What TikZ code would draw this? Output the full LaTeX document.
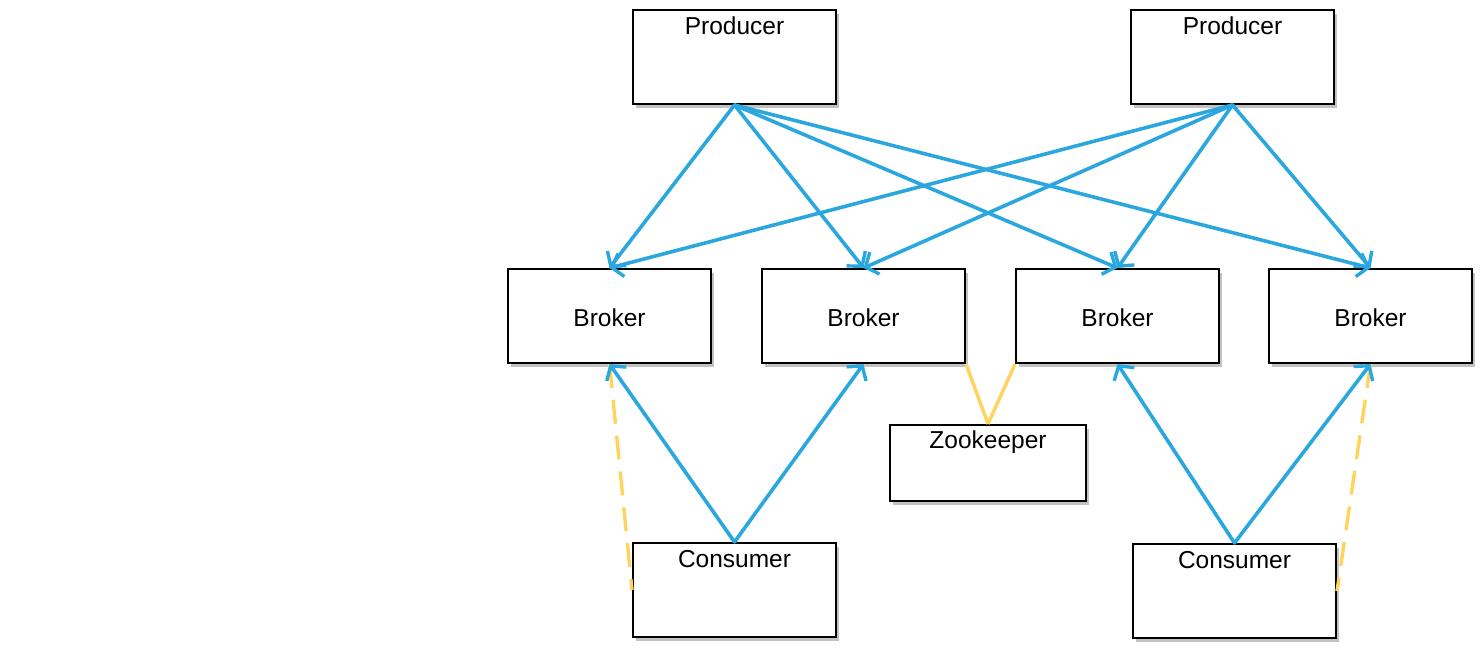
\documentclass[tikz,border=0pt]{standalone}
\usepackage{fontspec}
\setmainfont{Liberation Sans}
\usetikzlibrary{arrows.meta,shadows}
\definecolor{kblue}{HTML}{2AA7DF}
\definecolor{kyellow}{HTML}{FFD45E}
\tikzset{
  box/.style={draw=black, line width=2pt, fill=white, anchor=north west,
    inner xsep=0pt, inner ysep=0pt, minimum width=203pt, font=\fontsize{24.5}{28}\selectfont,
    drop shadow={shadow xshift=3pt, shadow yshift=-4pt, opacity=0.4, fill=black!60}},
  topbox/.style={box, text height=24pt, text depth=70pt},
  midbox/.style={box, text height=57pt, text depth=37pt},
  zkbox/.style={box, minimum width=196pt, text height=23pt, text depth=53pt},
  flow/.style={draw=kblue, line width=3.6pt, line cap=round,
    -{Straight Barb[length=10pt,width=24pt,line width=3.4pt]}},
  zklink/.style={draw=kyellow, line width=3.4pt},
  zkdash/.style={draw=kyellow, line width=3.4pt, dash pattern=on 24pt off 12pt}
}
\begin{document}
\begin{tikzpicture}[x=1pt,y=-1pt]
\useasboundingbox (0,0) rectangle (1480,648);
\node[topbox] (p1) at (632,9) {Producer};
\node[topbox] (p2) at (1130,9) {Producer};
\node[midbox] (b1) at (507,268) {Broker};
\node[midbox] (b2) at (761,268) {Broker};
\node[midbox] (b3) at (1015,268) {Broker};
\node[midbox] (b4) at (1268,268) {Broker};
\node[zkbox] (z) at (889,424) {Zookeeper};
\node[topbox] (c1) at (632,542) {Consumer};
\node[topbox] (c2) at (1132,543) {Consumer};
% zookeeper links
\draw[zklink] (b2.south east) -- (z.north);
\draw[zklink] (b3.south west) -- (z.north);
\draw[zkdash] (b1.south) -- (c1.west);
\draw[zkdash] (b4.south) -- (c2.east);
% producer flows
\foreach \b in {b1,b2,b3,b4}{
  \draw[flow] (p1.south) -- (\b.north);
  \draw[flow] (p2.south) -- (\b.north);
}
% consumer flows
\draw[flow] (c1.north) -- (b1.south);
\draw[flow] (c1.north) -- (b2.south);
\draw[flow] (c2.north) -- (b3.south);
\draw[flow] (c2.north) -- (b4.south);
\end{tikzpicture}
\end{document}
